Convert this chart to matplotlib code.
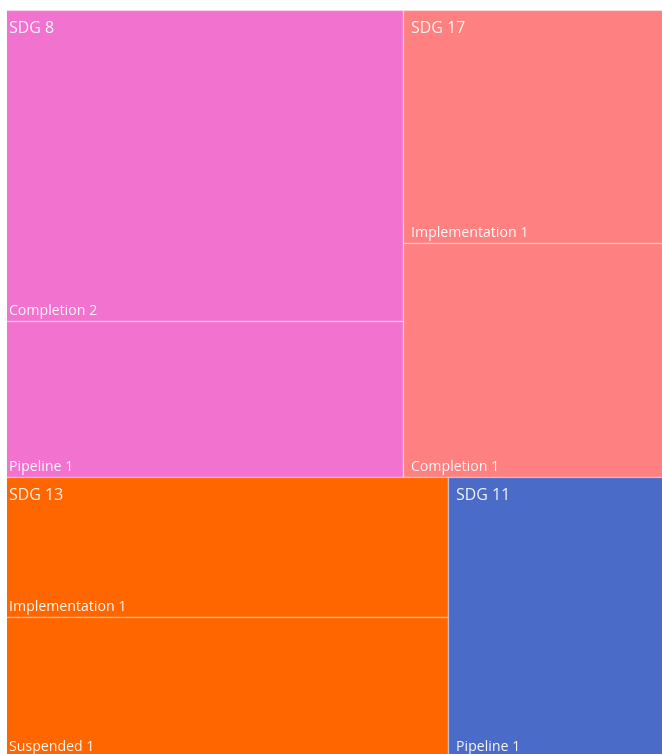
import matplotlib.pyplot as plt
from matplotlib.patches import Rectangle

plt.rcParams['font.family'] = ['Open Sans', 'DejaVu Sans']

groups = ['SDG 8', 'SDG 17', 'SDG 13', 'SDG 11']
group_colors = ['#F272CF', '#FF8080', '#FF6600', '#4A6BC7']
children = [
    ['Completion', 'Pipeline'],
    ['Implementation', 'Completion'],
    ['Implementation', 'Suspended'],
    ['Pipeline'],
]
child_values = [
    [2, 1],
    [1, 1],
    [1, 1],
    [1],
]


def worst(row, side):
    s = sum(row)
    return max(max(side * side * r / (s * s), s * s / (side * side * r)) for r in row)


def squarify(values, x, y, w, h):
    # values sorted desc, already scaled to area
    rects = []
    vals = list(values)
    while vals:
        side = min(w, h)
        row = [vals.pop(0)]
        while vals and worst(row + [vals[0]], side) <= worst(row, side):
            row.append(vals.pop(0))
        s = sum(row)
        if w >= h:
            cw = s / h
            cy = y
            for r in row:
                rh = r / cw
                rects.append((x, cy, cw, rh))
                cy += rh
            x += cw
            w -= cw
        else:
            rh = s / w
            cx = x
            for r in row:
                rw = r / rh
                rects.append((cx, y, rw, rh))
                cx += rw
            y += rh
            h -= rh
    return rects


W, H = 662, 754
# treemap is a bit larger than the visible area, clipped on left/right/bottom
X0, Y0, TW, TH = 1, 10, 670, 747
CL, CT = 7, 10

fig = plt.figure(figsize=(W / 100, H / 100), dpi=100)
ax = fig.add_axes([CL / W, 0, (W - CL) / W, (H - CT) / H])
ax.set_xlim(CL, W)
ax.set_ylim(H, CT)
ax.axis('off')

totals = [sum(v) for v in child_values]
total = sum(totals)
areas = [t / total * TW * TH for t in totals]
rects = squarify(areas, X0, Y0, TW, TH)

for g, col, kids, vals, (gx, gy, gw, gh) in zip(groups, group_colors, children, child_values, rects):
    cy = gy
    for k, v in zip(kids, vals):
        ch = gh * v / sum(vals)
        ax.add_patch(Rectangle((gx, cy), gw, ch, facecolor=col, edgecolor=(1, 1, 1, 0.35), linewidth=1))
        ax.text(gx + 8, cy + ch - 6, f'{k} {v}', color='white', fontsize=10.2, ha='left', va='baseline', alpha=0.95)
        cy += ch
    ax.text(gx + 8, gy + 23, g, color='white', fontsize=11.5, ha='left', va='baseline', alpha=0.95)

fig.savefig('out.png', dpi=100)
